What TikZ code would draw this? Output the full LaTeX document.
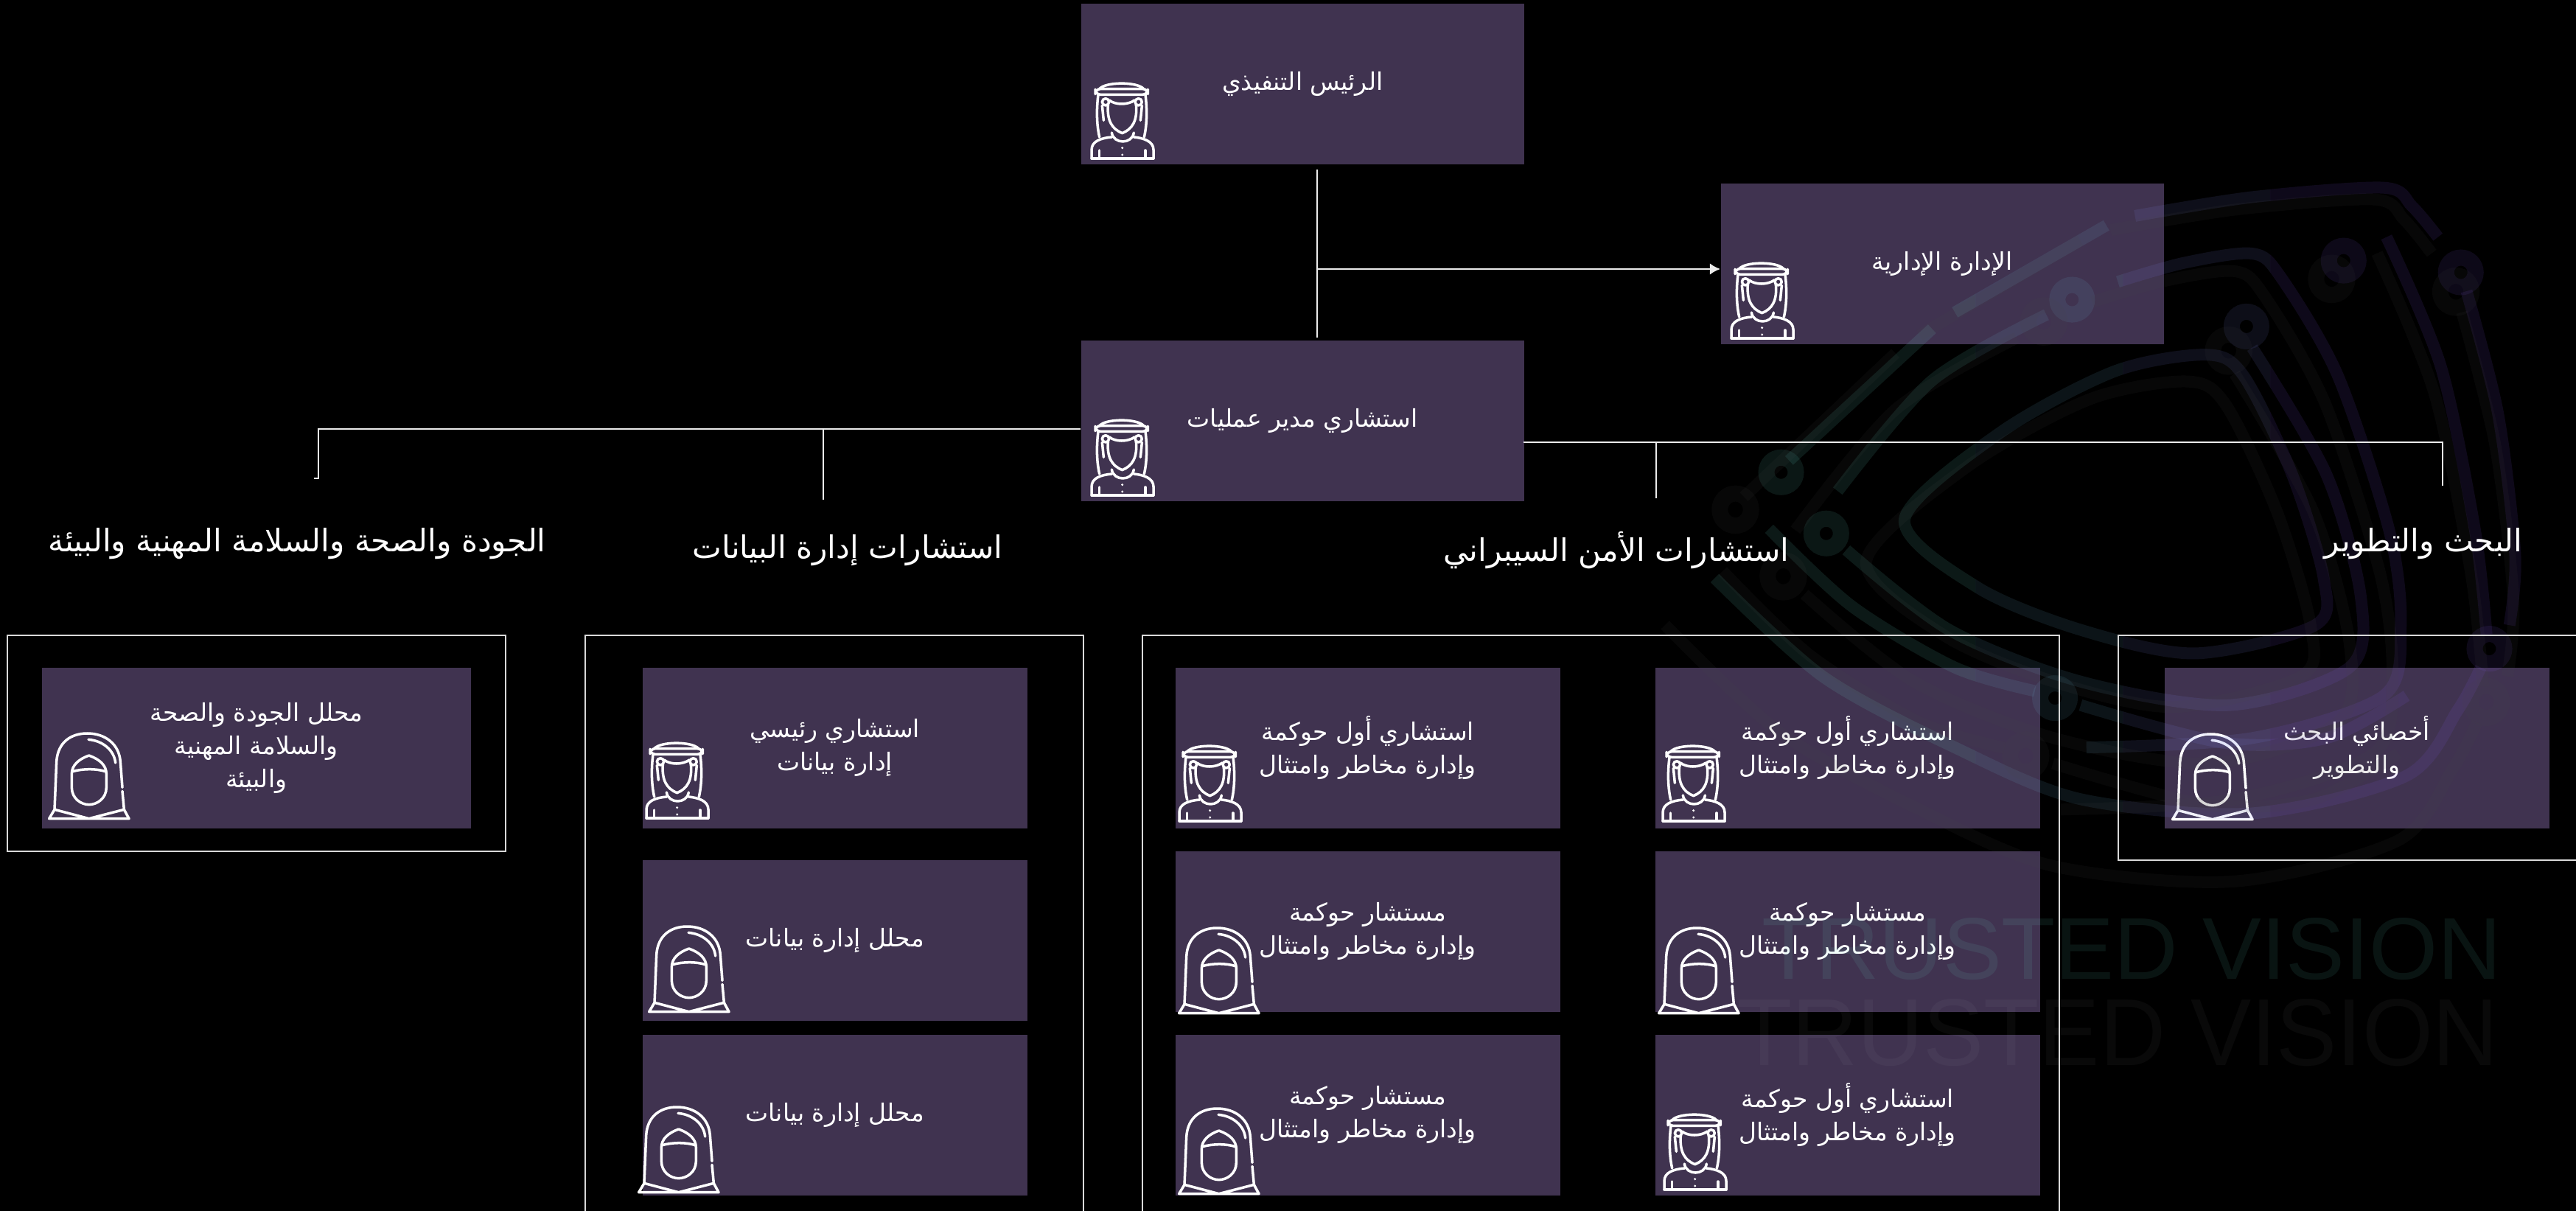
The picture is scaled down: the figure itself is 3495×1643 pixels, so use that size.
\documentclass[tikz,border=0pt]{standalone}
\usepackage{fontspec}
\usepackage{graphicx}
\usetikzlibrary{arrows.meta}
\setsansfont{Liberation Sans}
\newfontfamily\arabicfont[Script=Arabic]{DejaVu Sans}
\TeXXeTstate=1
\definecolor{boxpurple}{RGB}{64,51,80}
\definecolor{logogreen}{RGB}{110,230,210}
\definecolor{logoteal}{RGB}{110,190,220}
\definecolor{logoblue}{RGB}{130,140,240}
\definecolor{logopurple}{RGB}{135,90,240}
\def\unitpx{0.01cm}
\newcommand{\artext}[1]{\beginR #1\endR}

\tikzset{
  boxbase/.style={fill=boxpurple,text=white,inner sep=0pt,anchor=north west,align=center,
    minimum height=218*\unitpx,font=\arabicfont\fontsize{9.4}{12.8}\selectfont},
  bigbox/.style={boxbase,minimum width=601*\unitpx},
  midbox/.style={boxbase,minimum width=522*\unitpx},
  framebox/.style={draw=white!85!black,line width=.55pt,inner sep=0pt,anchor=north west},
  heading/.style={text=white,inner sep=0pt,font=\arabicfont\fontsize{12}{14}\selectfont},
  conn/.style={draw=white!92!black,line width=.7pt},
  iconline/.style={draw=white,line width=1pt,line cap=round,line join=round},
  logoline/.style={line width=16*\unitpx,opacity=.11},
  logodot/.style={line width=.22cm,opacity=.1},
  manicon/.pic={
    \begin{scope}[scale=1/3]
    \draw[iconline,rounded corners=2pt] (18,62) rectangle (232,85);
    \draw[iconline] (35,62) .. controls (60,32) and (190,32) .. (215,62);
    \draw[iconline] (30,85) .. controls (22,150) and (24,210) .. (35,258);
    \draw[iconline] (222,85) .. controls (230,150) and (228,210) .. (217,258);
    \draw[iconline] (75,108) .. controls (100,128) and (150,128) .. (178,108);
    \draw[iconline] (70,125) .. controls (65,190) and (85,225) .. (128,242)
      .. controls (170,225) and (190,190) .. (184,125);
    \draw[iconline] (60,115) circle (14) (194,115) circle (14);
    \draw[iconline] (46,130) -- (52,190) (208,130) -- (202,190);
    \draw[iconline] (85,240) .. controls (92,288) and (168,288) .. (175,240);
    \draw[iconline] (3,345) -- (3,310) .. controls (3,275) and (40,262) .. (85,258);
    \draw[iconline] (255,345) -- (255,310) .. controls (255,275) and (215,262) .. (175,258);
    \draw[iconline] (35,345) -- (35,312) (222,345) -- (222,312) (3,345) -- (255,345);
    \fill[white] (128,302) circle (5) (128,330) circle (5);
    \end{scope}
  },
  womanicon/.pic={
    \begin{scope}[scale=1/3]
    \draw[iconline] (42,325) -- (50,130) .. controls (55,50) and (110,15) .. (175,15)
      .. controls (250,15) and (305,60) .. (310,130) -- (318,235);
    \draw[iconline] (318,250) -- (325,325);
    \draw[iconline] (180,40) .. controls (240,45) and (285,85) .. (290,135);
    \draw[iconline] (182,105) .. controls (140,120) and (112,145) .. (112,180) -- (112,235)
      .. controls (112,280) and (150,305) .. (182,305)
      .. controls (215,305) and (253,280) .. (253,235) -- (253,180)
      .. controls (253,145) and (225,120) .. (182,105);
    \draw[iconline] (115,170) .. controls (160,158) and (210,158) .. (250,170);
    \draw[iconline] (20,362) -- (42,325) -- (182,362) -- (325,325) -- (345,362) -- cycle;
    \end{scope}
  }
}

% rings of the logo, in the coordinates of a crop at (2280,210)
\newcommand{\logolayer}[1]{
  \begin{scope}[shift={(2280,210)},x=.00775cm,y=-.00638cm]
  \draw[logoline,color=#1] plot[smooth cycle] coordinates {(392,775) (560,590) (760,460) (920,425) (985,470) (1070,680) (1125,900) (1110,1000) (900,1060) (700,1010) (520,920)};
  \draw[logoline,color=#1] plot[smooth] coordinates {(1000,410) (1130,680) (1190,940) (1170,1090) (960,1170) (700,1120) (470,1010) (290,840)};
  \draw[logoline,color=#1] plot[smooth] coordinates {(275,715) (440,480) (640,340)};
  \draw[logoline,color=#1] plot[smooth] coordinates {(765,270) (880,230) (1000,210) (1050,260) (1150,470) (1240,800) (1260,1000) (1230,1150) (1000,1240) (710,1260)};
  \draw[logoline,color=#1] plot[smooth] coordinates {(190,650) (440,370)};
  \draw[logoline,color=#1] plot[smooth] coordinates {(480,335) (745,150)};
  \draw[logoline,color=#1] plot[smooth] coordinates {(795,130) (1000,90) (1230,70) (1280,110) (1325,175)};
  \draw[logoline,color=#1] plot[smooth] coordinates {(1235,175) (1330,450) (1390,800) (1410,1020)};
  \draw[logoline,color=#1] plot[smooth] coordinates {(1375,290) (1430,550) (1460,850) (1450,1000)};
  \draw[logoline,color=#1] plot[smooth] coordinates {(155,795) (300,960) (480,1090) (620,1140)};
  \draw[logoline,color=#1] plot[smooth] coordinates {(700,1170) (950,1250) (1130,1240) (1270,1150)};
  \draw[logoline,color=#1] plot[smooth] coordinates {(60,900) (250,1110) (480,1260) (700,1370) (1000,1400) (1270,1320) (1360,1180) (1400,1090)};
  \foreach \cx/\cy in {176/675,255/805,685/308,990/365,1160/225,1365/250,1415/1050,655/1155}
    \draw[logodot,color=#1] (\cx,\cy) circle (.2cm);
  \end{scope}
}

\begin{document}
\begin{tikzpicture}[x=0.01cm,y=-0.01cm]
\fill[black] (0,0) rectangle (3495,1643);
\clip (0,0) rectangle (3495,1643);

% top of the chart
\node[bigbox] (ceo) at (1466,4) {\artext{الرئيس التنفيذي}};
\node[bigbox] (ops) at (1466,461) {\artext{استشاري مدير عمليات}};
\node[bigbox] (admin) at (2334,248) {\artext{الإدارة الإدارية}};

% quality
\node[midbox,minimum width=582*\unitpx] (qualA) at (56,905) {\artext{محلل الجودة والصحة}\\\artext{والسلامة المهنية}\\\artext{والبيئة}};

% data
\node[midbox] (dataA) at (871,905) {\artext{استشاري رئيسي}\\\artext{إدارة بيانات}};
\node[midbox] (dataB) at (871,1166) {\artext{محلل إدارة بيانات}};
\node[midbox] (dataC) at (871,1403) {\artext{محلل إدارة بيانات}};

% cyber
\node[midbox] (cyberA) at (1594,905) {\artext{استشاري أول حوكمة}\\\artext{وإدارة مخاطر وامتثال}};
\node[midbox] (cyberB) at (1594,1154) {\artext{مستشار حوكمة}\\\artext{وإدارة مخاطر وامتثال}};
\node[midbox] (cyberC) at (1594,1403) {\artext{مستشار حوكمة}\\\artext{وإدارة مخاطر وامتثال}};
\node[midbox] (cyberD) at (2245,905) {\artext{استشاري أول حوكمة}\\\artext{وإدارة مخاطر وامتثال}};
\node[midbox] (cyberE) at (2245,1154) {\artext{مستشار حوكمة}\\\artext{وإدارة مخاطر وامتثال}};
\node[midbox] (cyberF) at (2245,1403) {\artext{استشاري أول حوكمة}\\\artext{وإدارة مخاطر وامتثال}};

% research
\node[midbox] (researchA) at (2936,905) {\artext{أخصائي البحث}\\\artext{والتطوير}};

% icons
\foreach \ix/\iy in {1480/100,1480/557,2348/344,876/995,1599/999,2255/999,2257/1499}
  \pic at (\ix,\iy) {manicon};
\foreach \ix/\iy in {60/990,874/1252,860/1497,1593/1254,1593/1499,2244/1254,2941/991}
  \pic at (\ix,\iy) {womanicon};

% logo behind the lines
\foreach \xa/\xb/\bandcol in {2200/2680/logogreen,2680/2880/logoteal,2880/3080/logoblue,3080/3495/logopurple}{
  \begin{scope}
  \clip (\xa,0) rectangle (\xb,1643);
  \logolayer{\bandcol}
  \end{scope}
}
\begin{scope}[shift={(-207,-7)},xscale=1.06,yscale=1.09]
\logolayer{white!28!black}
\end{scope}
\node[text=logogreen,opacity=.09,inner sep=0pt] (markA) at (2892,1288) {\resizebox{10.03cm}{.83cm}{\sffamily TRUSTED VISION}};
\node[text=white,opacity=.035,inner sep=0pt] (markB) at (2873,1401) {\resizebox{10.33cm}{.9cm}{\sffamily TRUSTED VISION}};

% frames
\node[framebox,minimum width=676*\unitpx,minimum height=293*\unitpx] (qualFrame) at (9,861) {};
\node[framebox,minimum width=676*\unitpx,minimum height=820*\unitpx] (dataFrame) at (793,861) {};
\node[framebox,minimum width=1244*\unitpx,minimum height=820*\unitpx] (cyberFrame) at (1549,861) {};
\node[framebox,minimum width=660*\unitpx,minimum height=305*\unitpx] (researchFrame) at (2873,861) {};

% headings
\node[heading] (qualHead) at (403,738) {\artext{الجودة والصحة والسلامة المهنية والبيئة}};
\node[heading] (dataHead) at (1150,747) {\artext{استشارات إدارة البيانات}};
\node[heading] (cyberHead) at (2193,747) {\artext{استشارات الأمن السيبراني}};
\node[heading] (researchHead) at (3288,738) {\artext{البحث والتطوير}};

% connectors
\coordinate (ceoDrop) at (1787,230);
\coordinate (opsRise) at (1787,458);
\coordinate (adminBranch) at (1787,365);
\coordinate (opsLeft) at (1466,582);
\coordinate (opsRight) at (2067,600);
\coordinate (qualDrop) at (432,649);
\coordinate (dataDrop) at (1117,678);
\coordinate (cyberDrop) at (2247,676);
\coordinate (researchDrop) at (3314,659);
\draw[conn] (ceoDrop) -- (opsRise);
\draw[conn,-{Latex[length=4pt,width=4.4pt]}] (adminBranch) -- (admin.west |- adminBranch);
\draw[conn] (opsLeft) -| (qualDrop) -- ++(-6,0);
\draw[conn] (dataDrop |- opsLeft) -- (dataDrop);
\draw[conn] (opsRight) -| (researchDrop);
\draw[conn] (cyberDrop |- opsRight) -- (cyberDrop);
\end{tikzpicture}
\end{document}
